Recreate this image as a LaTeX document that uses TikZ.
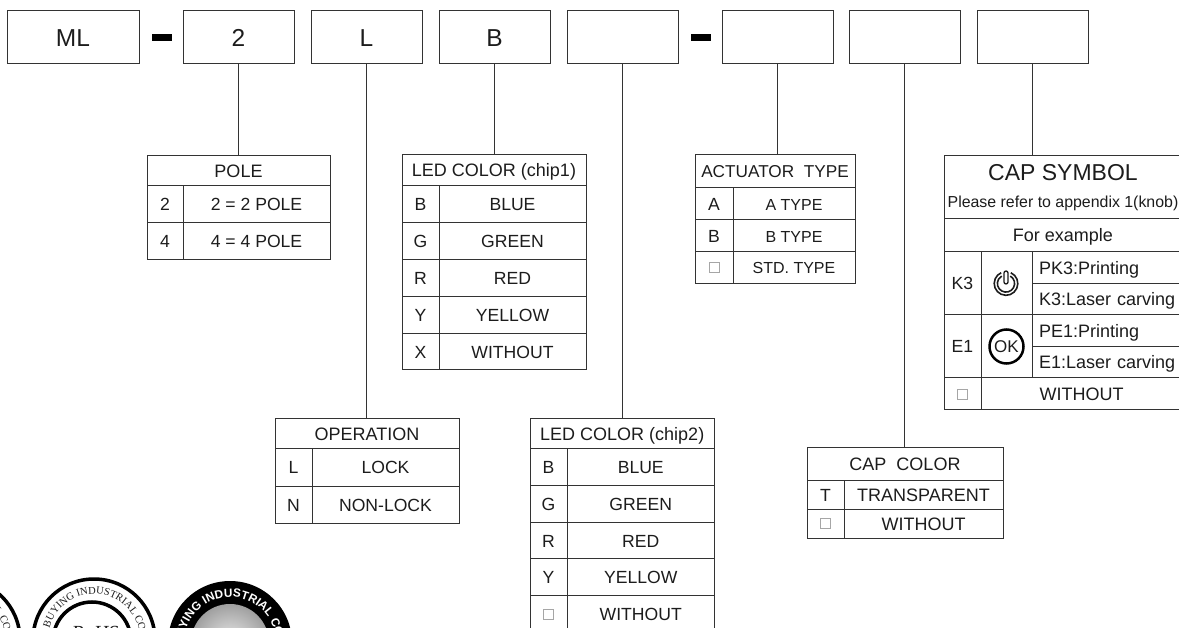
\documentclass[tikz,border=0pt]{standalone}
\usepackage{fontspec}
\setmainfont{Liberation Sans}
\newfontfamily\sealfont{Liberation Serif}
\usetikzlibrary{decorations.text}
\definecolor{inkgray}{HTML}{1C1C1C}
\definecolor{rulegray}{HTML}{333333}
\newcommand{\sizedfont}[1]{\fontsize{#1}{#1}\selectfont}
\tikzset{cellbox/.style 2 args={
    rectangle,
    draw=rulegray,
    line width=1pt,
    anchor=north west,
    inner sep=0pt,
    outer sep=0pt,
    text=inkgray,
    text height=13pt,
    text depth=0pt,
    font=\sizedfont{17.6},
    minimum width=#1pt,
    minimum height=#2pt
  },
  topbox/.style 2 args={cellbox={#1}{#2},text height=17.5pt,font=\sizedfont{24.5}},
  leftcell/.style={cellbox={157}{31.5},text width=143pt,inner xsep=7pt,align=left,font=\sizedfont{18}},
  headcell/.style={font=\sizedfont{18}},
  actcell/.style={font=\sizedfont{16}},
  hyphenbar/.style={fill=black,inner sep=0pt,minimum width=20pt,minimum height=7pt},
  emptymark/.style={draw=gray!70,line width=0.9pt,inner sep=0pt,minimum size=10pt},
  leader/.style={draw=rulegray,line width=1pt},
  sealring/.style={draw=black,line width=3.5pt},
  sealtext/.style={decorate,decoration={text along path,text align=fit to path,text={#1}}},
}

\begin{document}
\begin{tikzpicture}[x=1pt,y=-1pt]
  \useasboundingbox (0,0) rectangle (1179,628);
  \node [topbox={132}{53}] (mlbox) at (7,11) {ML};
  \node [hyphenbar] (hyphenone) at (162,37.5) {};
  \node [topbox={111}{53}] (polebox) at (183,11) {2};
  \node [topbox={111}{53}] (operbox) at (311,11) {L};
  \node [topbox={111}{53}] (chiponebox) at (439,11) {B};
  \node [topbox={111}{53}] (chiptwobox) at (567,11) {};
  \node [hyphenbar] (hyphentwo) at (701,37.5) {};
  \node [topbox={111}{53}] (actbox) at (722,11) {};
  \node [topbox={111}{53}] (colorbox) at (849,11) {};
  \node [topbox={111}{53}] (symbox) at (977,11) {};

  \node [cellbox={183}{30},headcell] (polehead) at (147,156) {POLE};
  \node [cellbox={36}{37}] (poleA) at (polehead.south west) {2};
  \node [cellbox={147}{37}] (poleAv) at (poleA.north east) {2 = 2 POLE};
  \node [cellbox={36}{37}] (poleB) at (poleA.south west) {4};
  \node [cellbox={147}{37}] (poleBv) at (poleB.north east) {4 = 4 POLE};

  \node [cellbox={184}{31},headcell] (chiponehead) at (402,155) {LED COLOR (chip1)};
  \node [cellbox={37}{36.8}] (chiponeA) at (chiponehead.south west) {B};
  \node [cellbox={147}{36.8}] (chiponeAv) at (chiponeA.north east) {BLUE};
  \node [cellbox={37}{36.8}] (chiponeB) at (chiponeA.south west) {G};
  \node [cellbox={147}{36.8}] (chiponeBv) at (chiponeB.north east) {GREEN};
  \node [cellbox={37}{36.8}] (chiponeC) at (chiponeB.south west) {R};
  \node [cellbox={147}{36.8}] (chiponeCv) at (chiponeC.north east) {RED};
  \node [cellbox={37}{36.8}] (chiponeD) at (chiponeC.south west) {Y};
  \node [cellbox={147}{36.8}] (chiponeDv) at (chiponeD.north east) {YELLOW};
  \node [cellbox={37}{36.8}] (chiponeE) at (chiponeD.south west) {X};
  \node [cellbox={147}{36.8}] (chiponeEv) at (chiponeE.north east) {WITHOUT};

  \node [cellbox={160}{33},font=\sizedfont{17.2}] (acthead) at (695,155) {ACTUATOR\ \ TYPE};
  \node [cellbox={38}{31.7}] (actA) at (acthead.south west) {A};
  \node [cellbox={122}{31.7},actcell] (actAv) at (actA.north east) {A TYPE};
  \node [cellbox={38}{31.7}] (actB) at (actA.south west) {B};
  \node [cellbox={122}{31.7},actcell] (actBv) at (actB.north east) {B TYPE};
  \node [cellbox={38}{31.7}] (actC) at (actB.south west) {};
  \node [cellbox={122}{31.7},actcell] (actCv) at (actC.north east) {STD. TYPE};
  \node [emptymark] (actmark) at (actC.center) {};

  \node [cellbox={238}{63},text height=,text depth=,align=center] (symhead) at (944,156)
  {{\sizedfont{23}CAP SYMBOL}\\[9pt]{\sizedfont{15.9}Please refer to appendix 1(knob)}};
  \node [cellbox={238}{33},headcell] (symexample) at (symhead.south west) {For example};
  \node [cellbox={37}{63}] (symK) at (symexample.south west) {K3};
  \node [cellbox={51}{63}] (symKicon) at (symK.north east) {};
  \node [leftcell] (symKa) at (symKicon.north east) {PK3:Printing};
  \node [leftcell] (symKb) at (symKa.south west) {K3:Laser carving};
  \node [cellbox={37}{63}] (symE) at (symK.south west) {E1};
  \node [cellbox={51}{63}] (symEicon) at (symE.north east) {};
  \node [leftcell] (symEa) at (symEicon.north east) {PE1:Printing};
  \node [leftcell] (symEb) at (symEa.south west) {E1:Laser carving};
  \node [cellbox={37}{32}] (symN) at (symE.south west) {};
  \node [cellbox={201}{32},headcell] (symNv) at (symN.north east) {WITHOUT};
  \node [emptymark] (symmark) at (symN.center) {};
  \draw [line width=1.6pt,inkgray] ([shift={(60:8.6pt)}]1006,283.5) arc[start angle=60,end angle=-240,radius=8.6pt];
  \draw [line width=1.6pt,inkgray] ([shift={(66:11.8pt)}]1006,283.5) arc[start angle=66,end angle=-246,radius=11.8pt];
  \draw [line width=1.3pt,inkgray,rounded corners=2pt] (1004,271) rectangle (1008,284);
  \node [circle,draw=black,line width=2.5pt,inner sep=0pt,minimum size=34pt,text=inkgray,font=\sizedfont{17}] (okmark) at (symEicon.center) {OK};

  \node [cellbox={184}{30},headcell] (operhead) at (275,419) {OPERATION};
  \node [cellbox={37}{37}] (operA) at (operhead.south west) {L};
  \node [cellbox={147}{37}] (operAv) at (operA.north east) {LOCK};
  \node [cellbox={37}{37}] (operB) at (operA.south west) {N};
  \node [cellbox={147}{37}] (operBv) at (operB.north east) {NON-LOCK};

  \node [cellbox={184.5}{29.5},headcell] (chiptwohead) at (530,419) {LED COLOR (chip2)};
  \node [cellbox={37}{36.8}] (chiptwoA) at (chiptwohead.south west) {B};
  \node [cellbox={147.5}{36.8}] (chiptwoAv) at (chiptwoA.north east) {BLUE};
  \node [cellbox={37}{36.8}] (chiptwoB) at (chiptwoA.south west) {G};
  \node [cellbox={147.5}{36.8}] (chiptwoBv) at (chiptwoB.north east) {GREEN};
  \node [cellbox={37}{36.8}] (chiptwoC) at (chiptwoB.south west) {R};
  \node [cellbox={147.5}{36.8}] (chiptwoCv) at (chiptwoC.north east) {RED};
  \node [cellbox={37}{36.8}] (chiptwoD) at (chiptwoC.south west) {Y};
  \node [cellbox={147.5}{36.8}] (chiptwoDv) at (chiptwoD.north east) {YELLOW};
  \node [cellbox={37}{36.8}] (chiptwoE) at (chiptwoD.south west) {};
  \node [cellbox={147.5}{36.8}] (chiptwoEv) at (chiptwoE.north east) {WITHOUT};
  \node [emptymark] (chiptwomark) at (chiptwoE.center) {};

  \node [cellbox={196}{32},headcell] (colorhead) at (807,448) {CAP\ \ COLOR};
  \node [cellbox={37}{29}] (colorA) at (colorhead.south west) {T};
  \node [cellbox={159}{29},headcell] (colorAv) at (colorA.north east) {TRANSPARENT};
  \node [cellbox={37}{29}] (colorB) at (colorA.south west) {};
  \node [cellbox={159}{29},headcell] (colorBv) at (colorB.north east) {WITHOUT};
  \node [emptymark] (colormark) at (colorB.center) {};

  \draw [leader] (polebox.south) -- (polebox.south |- polehead.north);
  \draw [leader] (operbox.south) -- (operbox.south |- operhead.north);
  \draw [leader] (chiponebox.south) -- (chiponebox.south |- chiponehead.north);
  \draw [leader] (chiptwobox.south) -- (chiptwobox.south |- chiptwohead.north);
  \draw [leader] (actbox.south) -- (actbox.south |- acthead.north);
  \draw [leader] (colorbox.south) -- (colorbox.south |- colorhead.north);
  \draw [leader] (symbox.south) -- (symbox.south |- symhead.north);

  \draw [sealring] (-41,640) circle[radius=61pt];
  \draw [sealring] (-41,640) circle[radius=39pt];
  \path [sealtext={|\sealfont\sizedfont{10.5}\color{inkgray}|BUYING INDUSTRIAL CO.,}]
  ([shift={(165:46pt)}]-41,640) arc[start angle=165,end angle=15,radius=46pt];
  \draw [sealring] (94,640) circle[radius=61pt];
  \draw [sealring] (92,641) circle[radius=39pt];
  \path [sealtext={|\sealfont\sizedfont{10.5}\color{inkgray}|BUYING INDUSTRIAL CO.,}]
  ([shift={(165:46pt)}]94,640) arc[start angle=165,end angle=15,radius=46pt];
  \node [anchor=base,text=inkgray,font=\sealfont\itshape\sizedfont{20}] (rohslabel) at (95,639) {RoHS};
  \fill [black] (230,643) circle[radius=62pt];
  \shade [inner color=gray!15,outer color=gray!75] (230,643) circle[radius=39pt];
  \path [sealtext={|\sizedfont{11.8}\bfseries\color{white}|BUYING INDUSTRIAL CO.,}]
  ([shift={(184:46pt)}]230,643) arc[start angle=184,end angle=6,radius=46pt];
\end{tikzpicture}
\end{document}
